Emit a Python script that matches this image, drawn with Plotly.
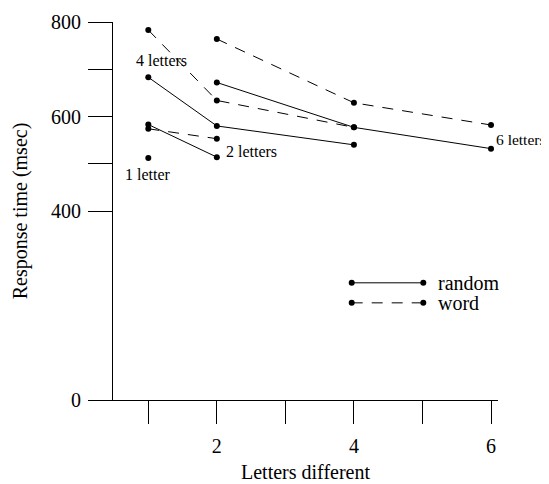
import plotly.graph_objects as go

# ---- data ----
x_1letter = [1]
rt_1letter = [512]

x_2letters = [1, 2]
random_2letters = [583, 514]
word_2letters = [574, 553]

x_4letters = [1, 2, 4]
random_4letters = [683, 580, 540]
word_4letters = [783, 634, 577]

x_6letters = [2, 4, 6]
random_6letters = [672, 577, 532]
word_6letters = [764, 629, 582]

x_tick_vals = [1, 2, 3, 4, 5, 6]
x_tick_text = ["", "2", "", "4", "", "6"]
y_tick_vals = [0, 400, 500, 600, 700, 800]
y_tick_text = ["0", "400", "", "600", "", "800"]

FONT = "Liberation Serif"
DASH = "11px,9px"

fig = go.Figure()

def add_series(xs, ys, dashed):
    fig.add_trace(go.Scatter(
        x=xs, y=ys, mode="lines+markers",
        line=dict(color="black", width=1, dash=DASH if dashed else "solid"),
        marker=dict(color="black", size=6),
        showlegend=False, hoverinfo="skip", cliponaxis=False,
    ))

add_series(x_1letter, rt_1letter, False)
add_series(x_2letters, random_2letters, False)
add_series(x_2letters, word_2letters, True)
add_series(x_4letters, random_4letters, False)
add_series(x_4letters, word_4letters, True)
add_series(x_6letters, random_6letters, False)
add_series(x_6letters, word_6letters, True)

# series labels
annots = [
    dict(x=x_4letters[0], y=word_4letters[0], text="4 letters", xanchor="center",
         yanchor="middle", xshift=13, yshift=-30, size=16),
    dict(x=x_1letter[0], y=rt_1letter[0], text="1 letter", xanchor="center",
         yanchor="middle", xshift=0, yshift=-16, size=16),
    dict(x=x_2letters[1], y=random_2letters[1], text="2 letters", xanchor="left",
         yanchor="middle", xshift=7, yshift=6, size=16),
    dict(x=x_6letters[2], y=random_6letters[2], text="6 letters", xanchor="left",
         yanchor="middle", xshift=3, yshift=9, size=15.5),
]
annotations = []
for a in annots:
    sz = a.pop("size")
    a.update(showarrow=False, font=dict(family=FONT, size=sz, color="black"))
    annotations.append(a)

# x-axis title
annotations.append(dict(xref="paper", yref="paper", x=0.5, y=-0.19,
                        text="Letters different", showarrow=False,
                        xanchor="center", yanchor="middle",
                        font=dict(family=FONT, size=20, color="black")))

# custom legend (line with dots at both ends)
legend_items = [("random", "solid", 0.310), ("word", DASH, 0.257)]
shapes = []
x0p, x1p = 0.62, 0.806
for name, dash, yp in legend_items:
    shapes.append(dict(type="line", xref="paper", yref="paper", x0=x0p, x1=x1p,
                       y0=yp, y1=yp, line=dict(color="black", width=1, dash=dash)))
    for xp in (x0p, x1p):
        shapes.append(dict(type="circle", xref="paper", yref="paper",
                           xsizemode="pixel", ysizemode="pixel",
                           xanchor=xp, yanchor=yp, x0=-3, x1=3, y0=-3, y1=3,
                           fillcolor="black", line=dict(color="black", width=0)))
    annotations.append(dict(xref="paper", yref="paper", x=x1p + 0.033, y=yp,
                            text=name, showarrow=False, xanchor="left",
                            yanchor="middle",
                            font=dict(family=FONT, size=20, color="black")))

fig.update_layout(
    width=541, height=476,
    margin=dict(l=105, r=51, t=14, b=84),
    paper_bgcolor="white", plot_bgcolor="white",
    font=dict(family=FONT, size=20, color="black"),
    shapes=shapes, annotations=annotations,
    xaxis=dict(range=[0.485, 6.102], showgrid=False, zeroline=False,
               showline=True, linecolor="black", linewidth=1, automargin=False,
               ticks="outside", ticklen=23, tickwidth=1, tickcolor="black",
               tickvals=x_tick_vals, ticktext=x_tick_text, ticklabelstandoff=5),
    yaxis=dict(range=[0, 800], showgrid=False, zeroline=False,
               showline=True, linecolor="black", linewidth=1, automargin=False,
               ticks="outside", ticklen=24, tickwidth=1, tickcolor="black",
               tickvals=y_tick_vals, ticktext=y_tick_text, ticklabelstandoff=3,
               title=dict(text="Response time (msec)", standoff=18,
                          font=dict(family=FONT, size=20))),
)

fig.write_html("out.html")
